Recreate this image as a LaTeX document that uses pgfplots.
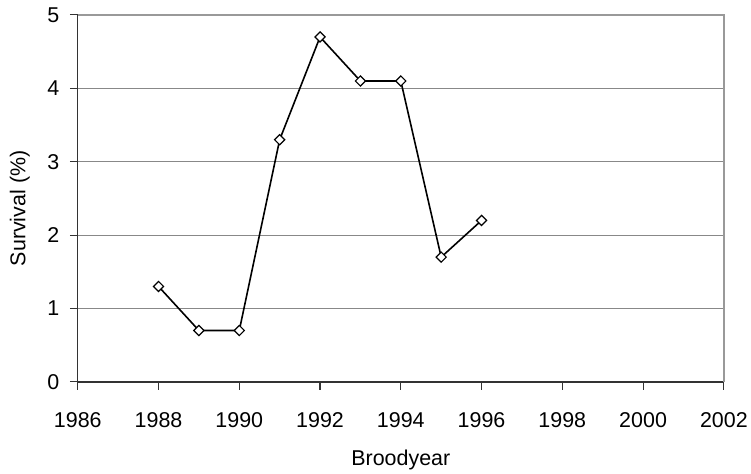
\documentclass[border=0pt]{standalone}
\usepackage{fontspec}
\setmainfont{Liberation Sans}
\usepackage{pgfplots}
\pgfplotsset{compat=1.18}
\definecolor{gridgray}{HTML}{888888}
\definecolor{framegray}{HTML}{999999}
\definecolor{axisdark}{HTML}{333333}
\begin{document}
\begin{tikzpicture}
\begin{axis}[
  scale only axis,
  width=648bp, height=368bp,
  xmin=1986, xmax=2002, ymin=0, ymax=5,
  xtick={1986,1988,...,2002},
  ytick={0,1,2,3,4,5},
  /pgf/number format/assume math mode=true,
  /pgf/number format/1000 sep={},
  tick label style={font=\fontsize{21.5bp}{25bp}\selectfont, black},
  label style={font=\fontsize{21.5bp}{25bp}\selectfont, black},
  axis x line*=bottom, axis y line*=left,
  axis line style={axisdark, line width=1.4bp},
  tick align=outside,
  major tick length=8bp,
  tick style={axisdark, line width=1.1bp},
  ymajorgrids,
  grid style={gridgray, line width=1bp},
  xticklabel style={anchor=base, yshift=-38bp},
  yticklabel style={anchor=east, xshift=-7bp},
  xlabel={Broodyear},
  ylabel={Survival (\%)},
  xlabel style={at={(axis description cs:0.5,-0.228)}, anchor=base},
  ylabel style={at={(axis description cs:-0.0895,0.473)}, anchor=center},
  clip=false,
]
\draw[framegray, line width=1.4bp] (rel axis cs:0,1) -- (rel axis cs:1,1) -- (rel axis cs:1,0);
\addplot[black, line width=1.6bp, mark=square*, mark size=3.6bp, mark options={solid, fill=white, line width=1.2bp, rotate=45}]
coordinates {
(1988,1.3) (1989,0.7) (1990,0.7) (1991,3.3) (1992,4.7) (1993,4.1) (1994,4.1) (1995,1.7) (1996,2.2)
};
\path (rel axis cs:0,0) ++(-78bp,-88bp);
\path (rel axis cs:1,1) ++(25bp,15bp);
\end{axis}
\end{tikzpicture}
\end{document}
